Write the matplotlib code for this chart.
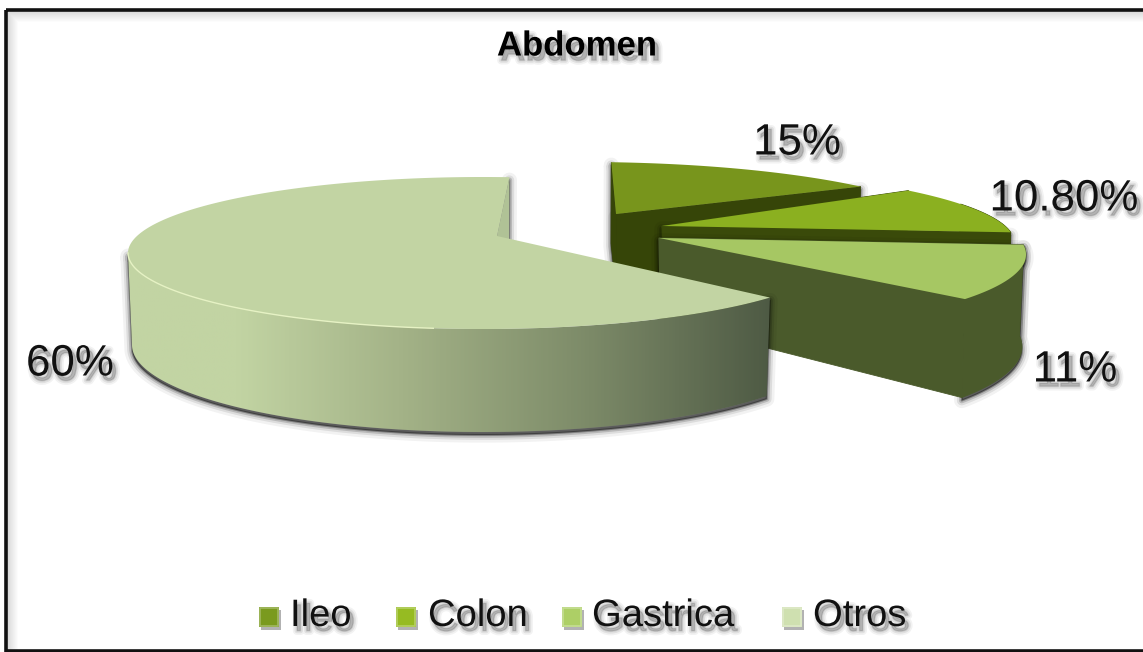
import numpy as np
import matplotlib
matplotlib.use('Agg')
import matplotlib.pyplot as plt
import matplotlib.patheffects as pe
from matplotlib.colors import LinearSegmentedColormap
from matplotlib.patches import Polygon, Rectangle

plt.rcParams['font.family'] = ['Liberation Sans', 'DejaVu Sans']

categories = ['Ileo', 'Colon', 'Gastrica', 'Otros']
shares = [15, 10.8, 11, 60]
value_labels = ['15%', '10.80%', '11%', '60%']

top_colors = ['#78951c', '#8bb020', '#a6c763', '#c2d4a3']
wall_colors = ['#364508', '#3a4a0a', '#4a5a2b', '#b0c296']
legend_colors = ['#7a9a1e', '#96bb22', '#adcf66', '#cfe0b0']

# pixel layout of the exploded pieces: ellipse centre of the top face, width and apex
centers = [(583, 238), (614, 242), (705, 254.5), (482.7, 253)]
widths = [377, 400, 321, 354.7]
apexes = [(616, 214), (662, 226), (659, 238), (497, 236)]
B_TOP = 76
B_BOT, DROP = 87, 92
START = 87.5          # degrees, first slice
W = 0.024 + 0.137j    # perspective squeeze of the far side

label_pos = [(797, 143), (1064, 199), (1075, 370), (70, 364)]
legend_x = [259, 396, 562, 782]
legend_text_x = [290, 428, 592, 813]


def persp(theta):
    z = np.exp(1j * np.radians(theta))
    return np.degrees(np.angle((z + W) / (1 + np.conj(W) * z)))


def top_pts(c, a, phi):
    phi = np.radians(phi)
    return np.column_stack([c[0] + a * np.cos(phi), c[1] - B_TOP * np.sin(phi)])


def bot_pts(c, a, phi):
    phi = np.radians(phi)
    return np.column_stack([c[0] + (a - 4) * np.cos(phi), c[1] + DROP - B_BOT * np.sin(phi)])


def soft_shadow(ax, pts, z):
    for lw, al in [(11, 0.05), (7, 0.09), (4, 0.16), (1.5, 0.3)]:
        ax.add_patch(Polygon(pts + [0, 3], closed=True, fc='k', ec='k', lw=lw, alpha=al,
                             joinstyle='round', zorder=z))


fig = plt.figure(figsize=(11.43, 6.52), dpi=100)
ax = fig.add_axes([0, 0, 1, 1])

# frame with its inner shadow, nested fills fading to white
for i in range(12):
    g = 0.85 + 0.15 * i / 11
    ax.add_patch(Rectangle((7 + i, 11 + i), 1150, 650, fc=(g, g, g), ec='none', zorder=1))
ax.add_patch(Rectangle((5.5, 9.5), 1145, 641, fc='none', ec='#111111', lw=2.6, zorder=2))

# slice edges from the data
fracs = np.array(shares) / np.sum(shares) * 360
edges = START - np.concatenate([[0], np.cumsum(fracs)])

z = 3
for i in range(4):
    c = centers[i]
    a = widths[i]
    ap = np.array(apexes[i], dtype=float)
    start = persp(edges[i])
    end = persp(edges[i + 1])
    phi = np.linspace(start, start - (start - end) % 360, 400)
    rim = top_pts(c, a, phi)
    low = bot_pts(c, a, phi)

    ap_low = ap + [1, DROP * 0.9]
    # walls of the two cuts
    end_wall = np.array([ap, rim[-1], low[-1], ap_low])
    start_wall = np.array([ap, rim[0], low[0], ap_low])

    # outer side, only the part facing front
    if i == 3:
        keep = np.mod(phi, 360) > 180
        side = np.vstack([top_pts(c, a, phi[keep]), bot_pts(c, a, phi[keep])[::-1]])
    else:
        keep = phi < 30
        side = np.vstack([rim[keep], low[keep][::-1]]) if keep.any() else None

    # shadows once per piece, they pile up otherwise
    if i == 0:
        outline = [start_wall, end_wall]
    elif i == 1:
        outline = [end_wall]
    elif i == 2:
        outline = [start_wall, side]
    else:
        outline = [end_wall, side]
    for o in outline:
        soft_shadow(ax, o, z)
    z += 1
    if i == 3:
        ax.add_patch(Polygon(end_wall, closed=True, fc=wall_colors[i], ec='none', zorder=z))
    else:
        for wall in (start_wall, end_wall):
            ax.add_patch(Polygon(wall, closed=True, fc=wall_colors[i], ec=wall_colors[i], lw=0.6, zorder=z))
    z += 1
    if side is not None:
        if i == 3:
            grad = LinearSegmentedColormap.from_list('side', [(0, '#c2d4a3'), (0.17, '#c2d4a3'), (0.43, '#a3b287'),
                                                              (0.72, '#7c8a68'), (1, '#4e5a44')])
            im = ax.imshow(np.linspace(0, 1, 300)[None, :], cmap=grad, extent=[125, 772, 440, 200],
                           aspect='auto', zorder=z)
            clip = Polygon(side, closed=True, fc='none', ec='none', transform=ax.transData)
            ax.add_patch(clip)
            im.set_clip_path(clip)
        else:
            ax.add_patch(Polygon(side, closed=True, fc=wall_colors[i], ec=wall_colors[i], lw=0.6, zorder=z))
    z += 1
    ax.add_patch(Polygon(np.vstack([ap, rim]), closed=True, fc=top_colors[i], ec='none', zorder=z))
    if i == 3:
        hl = top_pts(c, a, np.linspace(180, 262, 80))
        ax.plot(hl[:, 0], hl[:, 1], color='#e6f2c4', lw=1, zorder=z)
    z += 1


def shadow():
    return [pe.Stroke(linewidth=6, foreground='k', alpha=0.05, offset=(2.5, -3.5)),
            pe.Stroke(linewidth=3.5, foreground='k', alpha=0.07, offset=(2.5, -3.5)),
            pe.Stroke(linewidth=1.2, foreground='k', alpha=0.1, offset=(2.5, -3.5)),
            pe.Normal()]


ax.text(577, 46, 'Abdomen', fontsize=25, fontweight='bold', ha='center', va='center', zorder=50,
        path_effects=shadow())

for i in range(4):
    ax.text(label_pos[i][0], label_pos[i][1], value_labels[i], fontsize=31.6, ha='center', va='center',
            color='#111111', zorder=50, path_effects=shadow())

# legend
for i in range(4):
    sq = Rectangle((legend_x[i], 607), 20, 20, fc=legend_colors[i], ec='none', zorder=40)
    sq.set_path_effects([pe.SimplePatchShadow(offset=(1.5, -2), shadow_rgbFace='k', alpha=0.3), pe.Normal()])
    ax.add_patch(sq)
    ax.add_patch(Rectangle((legend_x[i] + 1, 608), 18, 18, fc='none', ec=(1, 1, 1, 0.3), lw=1.2, zorder=41))
    ax.text(legend_text_x[i], 616, categories[i], fontsize=27.5, ha='left', va='center', zorder=50,
            color='#111111', path_effects=shadow())

ax.set_xlim(0, 1143)
ax.set_ylim(652, 0)
ax.axis('off')
fig.savefig('out.png', dpi=100, facecolor='white')
